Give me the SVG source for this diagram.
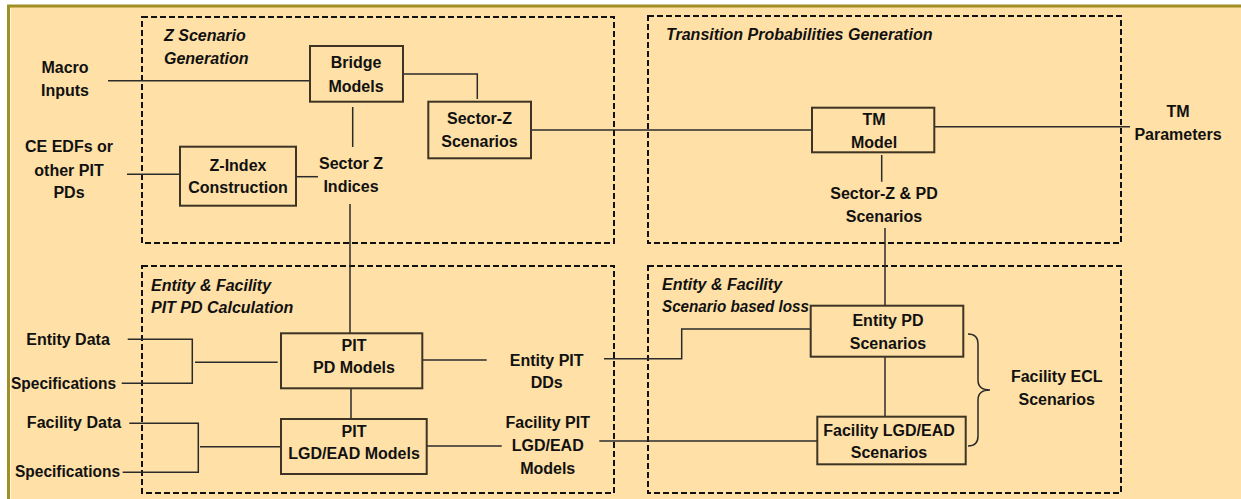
<svg xmlns="http://www.w3.org/2000/svg" width="1241" height="499" viewBox="0 0 1241 499">
<style>
text{font-family:"Liberation Sans",Arial,sans-serif;font-size:16px;font-weight:bold;fill:#111;}
.c{text-anchor:middle;}
.i{font-style:italic;}
.grp{fill:none;stroke:#111;stroke-width:2;stroke-dasharray:6 3;}
.box{fill:#FFE0A6;stroke:#3d3426;stroke-width:2;}
.ln{fill:none;stroke:#2b2b2b;stroke-width:1.5;}
</style>
<rect x="0" y="0" width="1241" height="499" fill="#fff"/>
<rect x="8.5" y="6" width="1240" height="500" fill="#FFE0A6" stroke="#A08F24" stroke-width="3"/>
<line x1="10.5" y1="8" x2="10.5" y2="499" stroke="#FFF3D8" stroke-width="1"/>

<g id="group-z">
<rect class="grp" x="142" y="17" width="472" height="226"/>
<text class="i" x="164" y="41">Z Scenario</text>
<text class="i" x="164" y="64">Generation</text>
</g>
<g id="group-tp">
<rect class="grp" x="648" y="16" width="473" height="227"/>
<text class="i" x="666" y="40">Transition Probabilities Generation</text>
</g>
<g id="group-pit">
<rect class="grp" x="142" y="266" width="472" height="227"/>
<text class="i" x="151" y="291">Entity &amp; Facility</text>
<text class="i" x="151" y="313">PIT PD Calculation</text>
</g>
<g id="group-loss">
<rect class="grp" x="648" y="266" width="473" height="227"/>
<text class="i" x="662" y="290">Entity &amp; Facility</text>
<text class="i" x="662" y="312" textLength="147" lengthAdjust="spacingAndGlyphs">Scenario based loss</text>
</g>

<g id="connectors">
<polyline class="ln" points="108,80.7 310,80.7"/>
<polyline class="ln" points="127,174.3 180,174.3"/>
<polyline class="ln" points="296,176.7 318,176.7"/>
<polyline class="ln" points="352.7,107 352.7,147"/>
<polyline class="ln" points="350,204 350,333"/>
<polyline class="ln" points="403,74 477.3,74 477.3,99"/>
<polyline class="ln" points="531,130 812,130"/>
<polyline class="ln" points="934,126.7 1130,126.7"/>
<polyline class="ln" points="881.7,155 881.7,181.7"/>
<polyline class="ln" points="885,228 885,305"/>
<polyline class="ln" points="885,357 885,417"/>
<polyline class="ln" points="127.7,339.3 192.3,339.3 192.3,383.3 121.7,383.3"/>
<polyline class="ln" points="195,362.3 277.7,362.3"/>
<polyline class="ln" points="351,388.5 351,419"/>
<polyline class="ln" points="129.3,423.3 198.3,423.3 198.3,472.3 122.7,472.3"/>
<polyline class="ln" points="200,446.7 280,446.7"/>
<polyline class="ln" points="422.3,360 486.7,360"/>
<polyline class="ln" points="604,358.7 681.7,358.7 681.7,329 810.7,329"/>
<polyline class="ln" points="426.7,446 501.7,446"/>
<polyline class="ln" points="599.3,441 817.3,441"/>
<path class="ln" d="M968,334 Q978,334 978,344 L978,380 Q978,390 990,390 Q978,390 978,400 L978,436 Q978,446 968,446"/>
</g>

<g id="macro-inputs"><text class="c" x="65" y="73">Macro</text><text class="c" x="65" y="96">Inputs</text></g>
<g id="ce-edfs"><text class="c" x="69" y="152">CE EDFs or</text><text class="c" x="69" y="175.5">other PIT</text><text class="c" x="69" y="198">PDs</text></g>
<g id="bridge-models"><rect class="box" x="310" y="46" width="93" height="55.7"/><text class="c" x="356" y="68">Bridge</text><text class="c" x="356" y="92">Models</text></g>
<g id="z-index"><rect class="box" x="180" y="146.7" width="116" height="59"/><text class="c" x="238" y="170.7">Z-Index</text><text class="c" x="238" y="193.3">Construction</text></g>
<g id="sector-z-indices"><text class="c" x="351" y="169">Sector Z</text><text class="c" x="351" y="192">Indices</text></g>
<g id="sector-z-scenarios"><rect class="box" x="428.3" y="101.7" width="102.7" height="56.6"/><text class="c" x="479.5" y="124">Sector-Z</text><text class="c" x="479.5" y="147.3">Scenarios</text></g>
<g id="tm-model"><rect class="box" x="812" y="107.7" width="122.3" height="44.6"/><text class="c" x="874" y="125">TM</text><text class="c" x="874" y="147.7">Model</text></g>
<g id="tm-parameters"><text class="c" x="1178" y="117.3">TM</text><text class="c" x="1178" y="140">Parameters</text></g>
<g id="sector-z-pd"><text class="c" x="884" y="199">Sector-Z &amp; PD</text><text class="c" x="884" y="222.3">Scenarios</text></g>
<g id="entity-data"><text class="c" x="68" y="345">Entity Data</text><text x="11" y="389.3" textLength="105" lengthAdjust="spacingAndGlyphs">Specifications</text></g>
<g id="facility-data"><text class="c" x="74" y="428.3">Facility  Data</text><text x="15" y="476.7" textLength="105" lengthAdjust="spacingAndGlyphs">Specifications</text></g>
<g id="pit-pd-models"><rect class="box" x="281" y="333.3" width="141.3" height="55"/><text class="c" x="354" y="350.7">PIT</text><text class="c" x="354" y="373.3">PD Models</text></g>
<g id="pit-lgd-models"><rect class="box" x="281" y="419" width="145.7" height="55"/><text class="c" x="354" y="436.7">PIT</text><text class="c" x="354" y="459.3">LGD/EAD Models</text></g>
<g id="entity-pit-dds"><text class="c" x="546.7" y="365.7">Entity PIT</text><text class="c" x="546.7" y="388.3">DDs</text></g>
<g id="facility-pit-lgd"><text class="c" x="547.7" y="428.3">Facility PIT</text><text class="c" x="547.7" y="451">LGD/EAD</text><text class="c" x="547.7" y="474">Models</text></g>
<g id="entity-pd-scenarios"><rect class="box" x="810.7" y="305.7" width="152.6" height="51"/><text class="c" x="888" y="326">Entity PD</text><text class="c" x="888" y="349">Scenarios</text></g>
<g id="facility-lgd-scenarios"><rect class="box" x="817.3" y="416.7" width="148.4" height="47.6"/><text class="c" x="889" y="435.7">Facility LGD/EAD</text><text class="c" x="889" y="458.3">Scenarios</text></g>
<g id="facility-ecl"><text class="c" x="1056.7" y="382.3">Facility ECL</text><text class="c" x="1056.7" y="405">Scenarios</text></g>
</svg>
